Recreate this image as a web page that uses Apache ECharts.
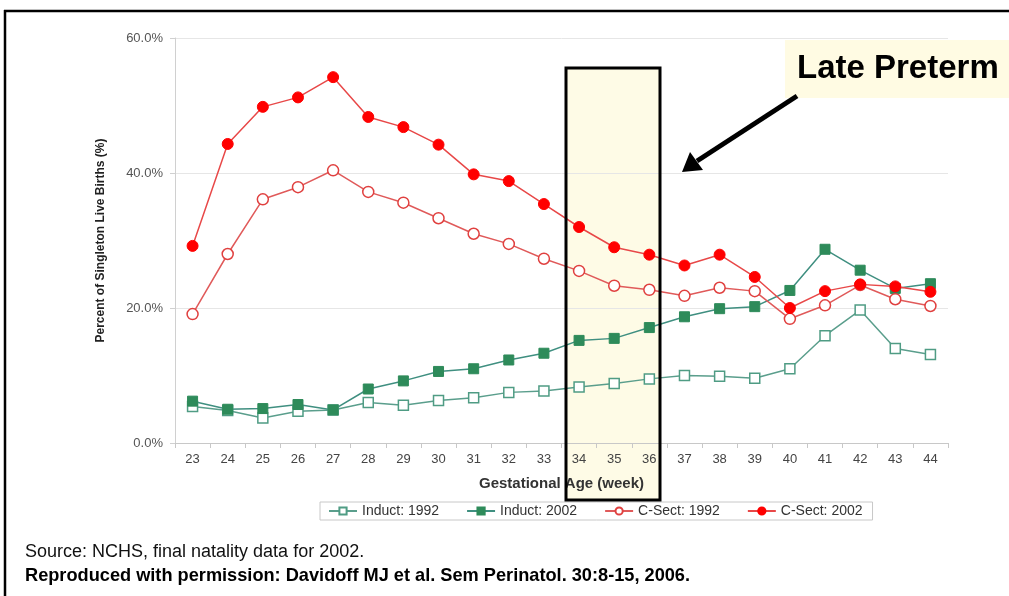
<!DOCTYPE html>
<html><head><meta charset="utf-8">
<script src="https://cdn.jsdelivr.net/npm/echarts@6/dist/echarts.min.js"></script>
<style>html,body{margin:0;padding:0;background:#fff;}#c{width:1009px;height:596px;}</style>
</head><body><div id="c"></div>
<script>
var weeks = ['23','24','25','26','27','28','29','30','31','32','33','34','35','36','37','38','39','40','41','42','43','44'];
var induct1992 = [5.4,4.8,3.7,4.7,4.9,6.0,5.6,6.3,6.7,7.5,7.7,8.3,8.8,9.5,10.0,9.9,9.6,11.0,15.9,19.7,14.0,13.1];
var induct2002 = [6.2,5.0,5.1,5.7,4.9,8.0,9.2,10.6,11.0,12.3,13.3,15.2,15.5,17.1,18.7,19.9,20.2,22.6,28.7,25.6,22.9,23.6];
var csect1992 = [19.1,28.0,36.1,37.9,40.4,37.2,35.6,33.3,31.0,29.5,27.3,25.5,23.3,22.7,21.8,23.0,22.5,18.4,20.4,23.4,21.3,20.3];
var csect2002 = [29.2,44.3,49.8,51.2,54.2,48.3,46.8,44.2,39.8,38.8,35.4,32.0,29.0,27.9,26.3,27.9,24.6,20.0,22.5,23.5,23.2,22.4];
var yTicks = [0,20,40,60];

var chart = echarts.init(document.getElementById('c'));
var font = 'Liberation Sans, Arial, sans-serif';
chart.setOption({
  animation:false,
  textStyle:{fontFamily:font},
  grid:{left:175,right:61,top:38,bottom:153},
  legend:{
    left:320, top:502, orient:'horizontal',
    borderColor:'#c8c8c8', borderWidth:1, padding:[2,10,2,8],
    itemWidth:28, itemHeight:9, itemGap:27,
    textStyle:{fontSize:14,color:'#333',fontFamily:font},
    data:['Induct: 1992','Induct: 2002','C-Sect: 1992','C-Sect: 2002']
  },
  xAxis:{
    type:'category', data:weeks, boundaryGap:true,
    name:'Gestational Age (week)', nameLocation:'middle', nameGap:33,
    nameTextStyle:{fontSize:15,fontWeight:'bold',color:'#333'},
    axisLine:{lineStyle:{color:'#c8c8c8'}},
    axisTick:{show:true,length:5,lineStyle:{color:'#c8c8c8'}},
    axisLabel:{fontSize:13,color:'#444',margin:10}
  },
  yAxis:{
    type:'value', min:0, max:60, interval:20,
    name:'Percent of Singleton Live Births (%)', nameLocation:'middle', nameGap:68,
    nameTextStyle:{fontSize:12,fontWeight:'bold',color:'#222'},
    axisLine:{show:true,lineStyle:{color:'#d0d0d0'}},
    axisTick:{show:true,length:5,lineStyle:{color:'#d0d0d0'}},
    splitLine:{lineStyle:{color:'#e6e6e6'}},
    axisLabel:{fontSize:13,color:'#555',margin:12,formatter:function(v){return v.toFixed(1)+'%';}}
  },
  series:[
    {name:'Induct: 1992',type:'line',data:induct1992,symbol:'rect',symbolSize:10,
     lineStyle:{color:'#5a9e8c',width:1.5},itemStyle:{color:'#ffffff',borderColor:'#4f9c84',borderWidth:1.5}},
    {name:'Induct: 2002',type:'line',data:induct2002,symbol:'rect',symbolSize:10,
     lineStyle:{color:'#3f8f80',width:1.5},itemStyle:{color:'#2e8b5a',borderColor:'#2e8b5a',borderWidth:1}},
    {name:'C-Sect: 1992',type:'line',data:csect1992,symbol:'circle',symbolSize:11,
     lineStyle:{color:'#e05a5a',width:1.5},itemStyle:{color:'#ffffff',borderColor:'#e0403f',borderWidth:1.5}},
    {name:'C-Sect: 2002',type:'line',data:csect2002,symbol:'circle',symbolSize:11,
     lineStyle:{color:'#e84848',width:1.5},itemStyle:{color:'#ff0000',borderColor:'#ff0000',borderWidth:1}}
  ],
  graphic:[
    {type:'rect',z:-10,shape:{x:566,y:68,width:94,height:432},style:{fill:'#fefbe6'}},
    {type:'rect',z:100,shape:{x:566,y:68,width:94,height:432},style:{fill:'none',stroke:'#000',lineWidth:3}},
    {type:'rect',z:-10,shape:{x:785,y:40,width:224,height:58},style:{fill:'#fffbe3'}},
    {type:'text',z:100,x:797,y:52,style:{text:'Late Preterm',font:'bold 33px '+font,fill:'#000'}},
    {type:'line',z:100,shape:{x1:797,y1:96,x2:697,y2:161},style:{stroke:'#000',lineWidth:5}},
    {type:'polygon',z:100,shape:{points:[[682,172],[690,152],[703,170]]},style:{fill:'#000'}},
    {type:'line',z:100,shape:{x1:4,y1:11,x2:1009,y2:11},style:{stroke:'#000',lineWidth:2.5}},
    {type:'line',z:100,shape:{x1:5,y1:10,x2:5,y2:596},style:{stroke:'#000',lineWidth:2.5}},
    {type:'text',z:100,x:25,y:543,style:{text:'Source: NCHS, final natality data for 2002.',font:'18px '+font,fill:'#111'}},
    {type:'text',z:100,x:25,y:567,style:{text:'Reproduced with permission: Davidoff MJ et al. Sem Perinatol. 30:8-15, 2006.',font:'bold 18.2px '+font,fill:'#000'}}
  ]
});
</script></body></html>
